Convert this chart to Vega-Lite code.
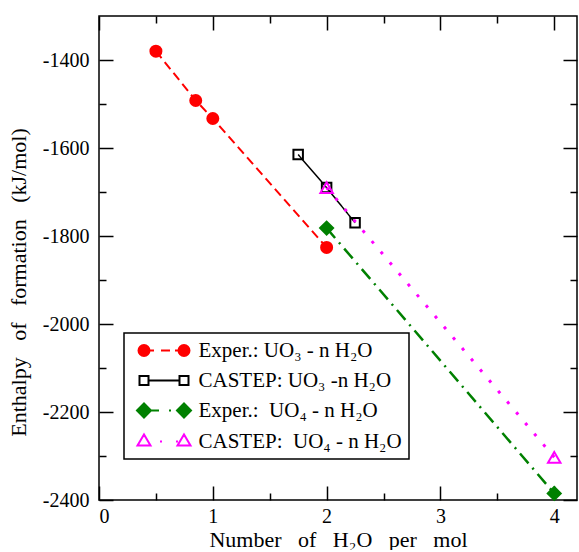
{
  "$schema": "https://vega.github.io/schema/vega-lite/v6.json",
  "width": 478,
  "height": 484,
  "padding": {"left": 7, "top": 15, "right": 0, "bottom": 0},
  "background": "white",
  "config": {
    "view": {"stroke": "black", "strokeWidth": 1.5},
    "font": "Liberation Serif, DejaVu Serif, serif",
    "axis": {"domain": false, "grid": false, "labelFont": "Liberation Serif, DejaVu Serif, serif", "labelFontSize": 20, "labelColor": "black", "titleFont": "Liberation Serif, DejaVu Serif, serif", "titleFontSize": 22, "titleFontWeight": "normal", "titleColor": "black", "tickColor": "black", "tickWidth": 1.5},
    "legend": {"strokeWidth": 1.5}
  },
  "data": {"values": [
    {"series": "Exper.: UO\u2083 - n H\u2082O", "n": 0.5, "H": -1380},
    {"series": "Exper.: UO\u2083 - n H\u2082O", "n": 0.85, "H": -1492},
    {"series": "Exper.: UO\u2083 - n H\u2082O", "n": 1, "H": -1533},
    {"series": "Exper.: UO\u2083 - n H\u2082O", "n": 2, "H": -1826},
    {"series": "CASTEP: UO\u2083 -n H\u2082O", "n": 1.75, "H": -1615},
    {"series": "CASTEP: UO\u2083 -n H\u2082O", "n": 2, "H": -1690},
    {"series": "CASTEP: UO\u2083 -n H\u2082O", "n": 2.25, "H": -1770},
    {"series": "Exper.:\u00a0 UO\u2084 - n H\u2082O", "n": 2, "H": -1782},
    {"series": "Exper.:\u00a0 UO\u2084 - n H\u2082O", "n": 4, "H": -2385},
    {"series": "CASTEP:\u00a0 UO\u2084 - n H\u2082O", "n": 2, "H": -1690},
    {"series": "CASTEP:\u00a0 UO\u2084 - n H\u2082O", "n": 4, "H": -2303}
  ]},
  "resolve": {"axis": {"x": "independent", "y": "independent"}},
  "layer": [
    {
      "mark": {"type": "line", "strokeCap": "butt"},
      "encoding": {
        "x": {"field": "n", "type": "quantitative", "scale": {"domain": [0, 4.2], "nice": false, "zero": false},
          "axis": {"orient": "bottom", "values": [0, 0.5, 1, 1.5, 2, 2.5, 3, 3.5, 4],
            "tickSize": {"condition": {"test": "datum.value % 1 === 0", "value": -14}, "value": -7},
            "labelExpr": "datum.value % 1 === 0 ? format(datum.value, 'd') : ''",
            "labelPadding": 20,
            "title": "Number\u00a0 \u00a0of\u00a0 \u00a0H\u2082O\u00a0 \u00a0per\u00a0 \u00a0mol", "titleY": 46, "titleBaseline": "alphabetic"}},
        "y": {"field": "H", "type": "quantitative", "scale": {"domain": [-2400, -1300], "nice": false, "zero": false},
          "axis": {"orient": "left", "values": [-2400, -2300, -2200, -2100, -2000, -1900, -1800, -1700, -1600, -1500, -1400],
            "tickSize": {"condition": {"test": "datum.value % 200 === 0", "value": -14}, "value": -7},
            "labelExpr": "datum.value % 200 === 0 ? '-' + abs(datum.value) : ''",
            "labelPadding": 24,
            "title": "Enthalpy\u00a0 \u00a0of\u00a0 \u00a0formation\u00a0 \u00a0(kJ/mol)", "titleX": -74, "titleY": 266, "titleAngle": -90, "titleBaseline": "alphabetic", "titleAlign": "center"}},
        "stroke": {"field": "series", "type": "nominal",
          "scale": {"domain": ["Exper.: UO\u2083 - n H\u2082O", "CASTEP: UO\u2083 -n H\u2082O", "Exper.:\u00a0 UO\u2084 - n H\u2082O", "CASTEP:\u00a0 UO\u2084 - n H\u2082O"], "range": ["#ff0000", "#000000", "#008000", "#ff00ff"]}},
        "strokeDash": {"field": "series", "type": "nominal",
          "scale": {"domain": ["CASTEP: UO\u2083 -n H\u2082O", "Exper.: UO\u2083 - n H\u2082O", "Exper.:\u00a0 UO\u2084 - n H\u2082O", "CASTEP:\u00a0 UO\u2084 - n H\u2082O"], "range": [[1, 0], [9, 5], [13, 6, 2, 6], [3, 11]]},
          "legend": null},
        "strokeWidth": {"field": "series", "type": "nominal",
          "scale": {"type": "ordinal", "domain": ["CASTEP: UO\u2083 -n H\u2082O", "Exper.: UO\u2083 - n H\u2082O", "Exper.:\u00a0 UO\u2084 - n H\u2082O", "CASTEP:\u00a0 UO\u2084 - n H\u2082O"], "range": [1.5, 2, 2.5, 3]},
          "legend": null}
      }
    },
    {
      "mark": {"type": "point", "filled": true, "opacity": 1, "strokeWidth": 2},
      "encoding": {
        "x": {"field": "n", "type": "quantitative", "scale": {"domain": [0, 4.2], "nice": false, "zero": false},
          "axis": {"orient": "top", "values": [0, 0.5, 1, 1.5, 2, 2.5, 3, 3.5, 4],
            "tickSize": {"condition": {"test": "datum.value % 1 === 0", "value": -14}, "value": -7},
            "labels": false, "title": null}},
        "y": {"field": "H", "type": "quantitative", "scale": {"domain": [-2400, -1300], "nice": false, "zero": false},
          "axis": {"orient": "right", "values": [-2400, -2300, -2200, -2100, -2000, -1900, -1800, -1700, -1600, -1500, -1400],
            "tickSize": {"condition": {"test": "datum.value % 200 === 0", "value": -14}, "value": -7},
            "labels": false, "title": null}},
        "stroke": {"field": "series", "type": "nominal",
          "scale": {"domain": ["Exper.: UO\u2083 - n H\u2082O", "CASTEP: UO\u2083 -n H\u2082O", "Exper.:\u00a0 UO\u2084 - n H\u2082O", "CASTEP:\u00a0 UO\u2084 - n H\u2082O"], "range": ["#ff0000", "#000000", "#008000", "#ff00ff"]},
          "legend": {
            "orient": "none", "legendX": 25, "legendY": 317, "title": null,
            "padding": 7, "strokeColor": "black", "fillColor": "white",
            "labelFont": "Liberation Serif, DejaVu Serif, serif", "labelFontSize": 21, "labelColor": "black", "labelLimit": 400,
            "labelOffset": 51, "symbolOffset": -4.5, "rowPadding": 8,
            "symbolSize": 4, "symbolStrokeWidth": 2,
            "symbolType": {"expr": "['M1.5,0A5.5,5.5,0,1,0,12.5,0A5.5,5.5,0,1,0,1.5,0ZM41.5,0A5.5,5.5,0,1,0,52.5,0A5.5,5.5,0,1,0,41.5,0ZM12.5,0L17,0M24,0L33,0M38,0L41.5,0', 'M2.5,-4.5L11.5,-4.5L11.5,4.5L2.5,4.5ZM42.5,-4.5L51.5,-4.5L51.5,4.5L42.5,4.5ZM11.5,0L42.5,0', 'M0,0L7,-7L14,0L7,7ZM40,0L47,-7L54,0L47,7ZM14,0L22,0M32,0L34,0', 'M0.5,4L7,-7L13.5,4ZM40.5,4L47,-7L53.5,4ZM23,0L25,0M39,0L41,0'][datum.index]"},
            "symbolFillColor": {"expr": "['#ff0000', 'transparent', '#008000', 'transparent'][datum.index]"}
          }},
        "shape": {"field": "series", "type": "nominal",
          "scale": {"domain": ["CASTEP: UO\u2083 -n H\u2082O", "Exper.: UO\u2083 - n H\u2082O", "Exper.:\u00a0 UO\u2084 - n H\u2082O", "CASTEP:\u00a0 UO\u2084 - n H\u2082O"], "range": ["square", "circle", "diamond", "triangle-up"]},
          "legend": null},
        "fill": {"field": "series", "type": "nominal",
          "scale": {"domain": ["CASTEP: UO\u2083 -n H\u2082O", "Exper.: UO\u2083 - n H\u2082O", "Exper.:\u00a0 UO\u2084 - n H\u2082O", "CASTEP:\u00a0 UO\u2084 - n H\u2082O"], "range": ["transparent", "#ff0000", "#008000", "transparent"]},
          "legend": null},
        "size": {"field": "series", "type": "nominal",
          "scale": {"type": "ordinal", "domain": ["CASTEP: UO\u2083 -n H\u2082O", "Exper.: UO\u2083 - n H\u2082O", "Exper.:\u00a0 UO\u2084 - n H\u2082O", "CASTEP:\u00a0 UO\u2084 - n H\u2082O"], "range": [90, 121, 170, 156]},
          "legend": null}
      }
    }
  ]
}
